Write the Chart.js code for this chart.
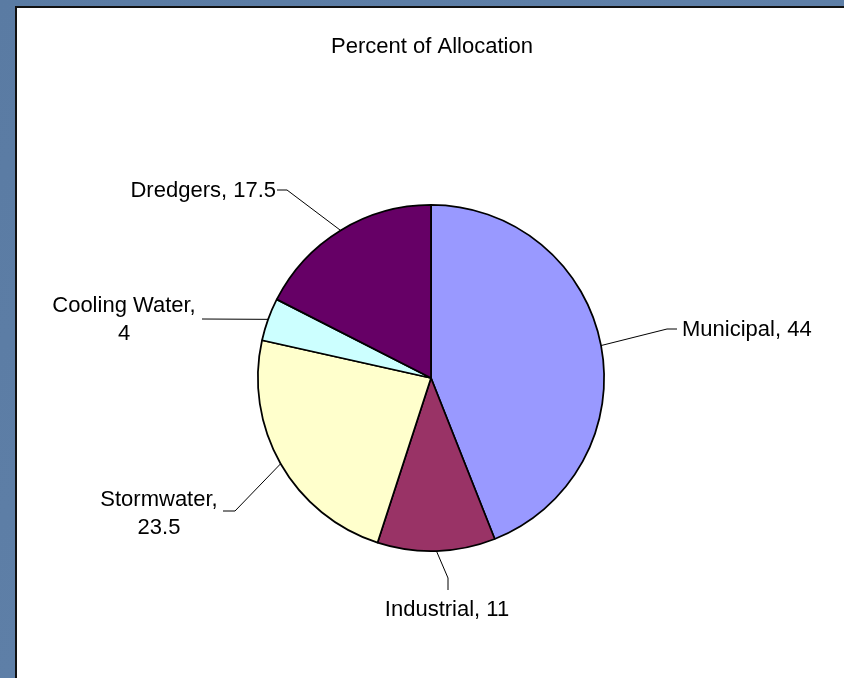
<!DOCTYPE html>
<html>
<head>
<meta charset="utf-8">
<script src="https://cdn.jsdelivr.net/npm/chart.js@4.4.1/dist/chart.umd.min.js"></script>
<style>
  html, body { margin: 0; padding: 0; background: #5b7ca4; }
  #wrap { position: relative; width: 844px; height: 678px; }
</style>
</head>
<body>
<div id="wrap"><canvas id="c"></canvas></div>
<script>
// ---- data ----
const categories = ["Municipal", "Industrial", "Stormwater", "Cooling Water", "Dredgers"];
const values = [44, 11, 23.5, 4, 17.5];
const sliceColors = ["#9999FF", "#993366", "#FFFFCC", "#CCFFFF", "#660066"];
const chartTitle = "Percent of Allocation";

// ---- label layout (pixel placement of labels / leader lines) ----
const labelLayout = [
  { elbow: [667, 329], end: [677, 329], tx: 682, ty: 330, align: "left",   wrap: false },
  { elbow: [448, 578], end: [448, 590], tx: 447, ty: 610, align: "center", wrap: false },
  { elbow: [235, 511], end: [223, 511], tx: 159, ty: 500, align: "center", wrap: true },
  { elbow: null,       end: [202, 319], tx: 124, ty: 306, align: "center", wrap: true },
  { elbow: [287, 190], end: [277, 190], tx: 276, ty: 191, align: "right",  wrap: false }
];

const FONT = '22px "Liberation Sans", Arial, sans-serif';

const backdrop = {
  id: "backdrop",
  beforeDraw(chart) {
    const ctx = chart.ctx;
    const W = chart.width, H = chart.height;
    ctx.save();
    const g = ctx.createLinearGradient(0, 0, W, H);
    g.addColorStop(0, "#5a7ba3");
    g.addColorStop(0.5, "#5f80a8");
    g.addColorStop(1, "#5a7aa2");
    ctx.fillStyle = g;
    ctx.fillRect(0, 0, W, H);
    ctx.fillStyle = "#ffffff";
    ctx.fillRect(16, 7, W - 16, H - 7);
    ctx.strokeStyle = "#111111";
    ctx.lineWidth = 2;
    ctx.beginPath();
    ctx.moveTo(16, H);
    ctx.lineTo(16, 7);
    ctx.lineTo(W, 7);
    ctx.stroke();
    // title
    ctx.fillStyle = "#000";
    ctx.font = FONT;
    ctx.textAlign = "center";
    ctx.textBaseline = "middle";
    ctx.fillText(chartTitle, 432, 47);
    ctx.restore();
  }
};

const leaderLabels = {
  id: "leaderLabels",
  afterDatasetsDraw(chart) {
    const ctx = chart.ctx;
    const meta = chart.getDatasetMeta(0);
    ctx.save();
    ctx.font = FONT;
    ctx.fillStyle = "#000";
    ctx.strokeStyle = "#000";
    ctx.lineWidth = 1;
    ctx.textBaseline = "middle";
    meta.data.forEach((arc, i) => {
      const p = arc.getProps(["x", "y", "startAngle", "endAngle", "outerRadius"], true);
      const mid = (p.startAngle + p.endAngle) / 2;
      const ex = p.x + Math.cos(mid) * p.outerRadius;
      const ey = p.y + Math.sin(mid) * p.outerRadius;
      const L = labelLayout[i];
      ctx.beginPath();
      ctx.moveTo(ex, ey);
      if (L.elbow) ctx.lineTo(L.elbow[0], L.elbow[1]);
      ctx.lineTo(L.end[0], L.end[1]);
      ctx.stroke();
      ctx.textAlign = L.align;
      const name = categories[i], val = String(values[i]);
      if (L.wrap) {
        ctx.fillText(name + ",", L.tx, L.ty);
        ctx.fillText(val, L.tx, L.ty + 28);
      } else {
        ctx.fillText(name + ", " + val, L.tx, L.ty);
      }
    });
    ctx.restore();
  }
};

new Chart(document.getElementById("c"), {
  type: "pie",
  data: {
    labels: categories,
    datasets: [{
      data: values,
      backgroundColor: sliceColors,
      borderColor: "#000000",
      borderWidth: 1.75,
      borderAlign: "center"
    }]
  },
  options: {
    responsive: true,
    maintainAspectRatio: false,
    animation: false,
    layout: { padding: { left: 257, right: 239, top: 204, bottom: 126 } },
    plugins: {
      legend: { display: false },
      title: { display: false },
      tooltip: { enabled: false }
    }
  },
  plugins: [backdrop, leaderLabels]
});
</script>
</body>
</html>
